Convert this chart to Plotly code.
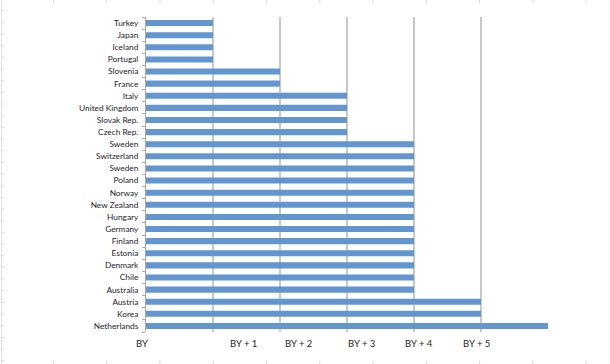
import plotly.graph_objects as go

# ---- data ----
countries = ["Turkey", "Japan", "Iceland", "Portugal", "Slovenia", "France", "Italy",
             "United Kingdom", "Slovak Rep.", "Czech Rep.", "Sweden", "Switzerland",
             "Sweden", "Poland", "Norway", "New Zealand", "Hungary", "Germany",
             "Finland", "Estonia", "Denmark", "Chile", "Australia", "Austria",
             "Korea", "Netherlands"]
years_after_base = [1, 1, 1, 1, 2, 2, 3, 3, 3, 3, 4, 4, 4, 4, 4, 4, 4, 4, 4, 4, 4, 4, 4, 5, 5, 6]
tick_labels = ["BY", "BY + 1", "BY + 2", "BY + 3", "BY + 4", "BY + 5"]
tick_label_pos = [-0.06, 1.46, 2.28, 3.22, 4.08, 4.93]
grid_vals = [0, 1, 2, 3, 4, 5, 6]
x_max = 6

W, H = 610, 364
ML, MR, MT, MB = 146, 61.5, 17, 32
PW = W - ML - MR
PH = H - MT - MB

def px_x(px):
    return (px - ML) / PW

def px_y(py):
    return (H - MB - py) / PH

rows = list(range(len(countries)))

fig = go.Figure()
fig.add_trace(go.Bar(
    x=years_after_base, y=rows, orientation="h",
    marker=dict(color="#6396CF", line=dict(width=0)),
    width=0.5, hoverinfo="skip", showlegend=False,
))

shapes = []
# faint spreadsheet cell marks in the background
shapes.append(dict(type="line", xref="paper", yref="paper",
                   x0=px_x(1.5), x1=px_x(1.5), y0=px_y(0), y1=px_y(H),
                   line=dict(color="#dedede", width=1), layer="below"))
k = 1
while 10.7 + (k - 1) * 11.67 < H:
    yy = 10.7 + (k - 1) * 11.67
    shapes.append(dict(type="line", xref="paper", yref="paper",
                       x0=px_x(1.5), x1=px_x(4), y0=px_y(yy), y1=px_y(yy),
                       line=dict(color="#d6d6d6", width=1), layer="below"))
    k += 1
for i in range(1, 12):
    xx = 53.33 * i
    shapes.append(dict(type="line", xref="paper", yref="paper",
                       x0=px_x(xx), x1=px_x(xx), y0=px_y(0), y1=px_y(3),
                       line=dict(color="#d6d6d6", width=1), layer="below"))
    shapes.append(dict(type="line", xref="paper", yref="paper",
                       x0=px_x(xx), x1=px_x(xx), y0=px_y(361), y1=px_y(364),
                       line=dict(color="#d6d6d6", width=1), layer="below"))

annotations = []
for lbl, pos in zip(tick_labels, tick_label_pos):
    annotations.append(dict(x=pos / x_max, y=px_y(343), xref="paper", yref="paper",
                            text=lbl, showarrow=False,
                            font=dict(family="Lato, Open Sans, sans-serif", size=9.5, color="#1e1e1e"),
                            xanchor="center", yanchor="middle"))

fig.update_layout(
    width=W, height=H,
    margin=dict(l=ML, r=MR, t=MT, b=MB, pad=0, autoexpand=False),
    paper_bgcolor="white", plot_bgcolor="white",
    shapes=shapes, annotations=annotations,
    bargap=0.5,
    xaxis=dict(range=[0, x_max], tickvals=grid_vals, showticklabels=False,
               showgrid=True, gridcolor="#c8c8c8", gridwidth=2,
               zeroline=False, showline=False, ticks="", automargin=False),
    yaxis=dict(range=[len(countries) - 0.5, -0.5], tickvals=rows, ticktext=countries,
               ticks="", showgrid=False, zeroline=False, automargin=False,
               showline=True, linecolor="#a8a8a8", linewidth=1,
               tickfont=dict(family="Lato, Open Sans, sans-serif", size=8.3, color="#1c1c2c"),
               minor=dict(tickvals=[r - 0.5 for r in rows] + [len(countries) - 0.5],
                          ticks="outside", ticklen=3, tickcolor="#a8a8a8", showgrid=False),
               ticklabelstandoff=5),
)

fig.write_html("out.html",
               config={"displayModeBar": False},
               post_script="document.body.style.margin='0';document.body.style.overflow='hidden';")
